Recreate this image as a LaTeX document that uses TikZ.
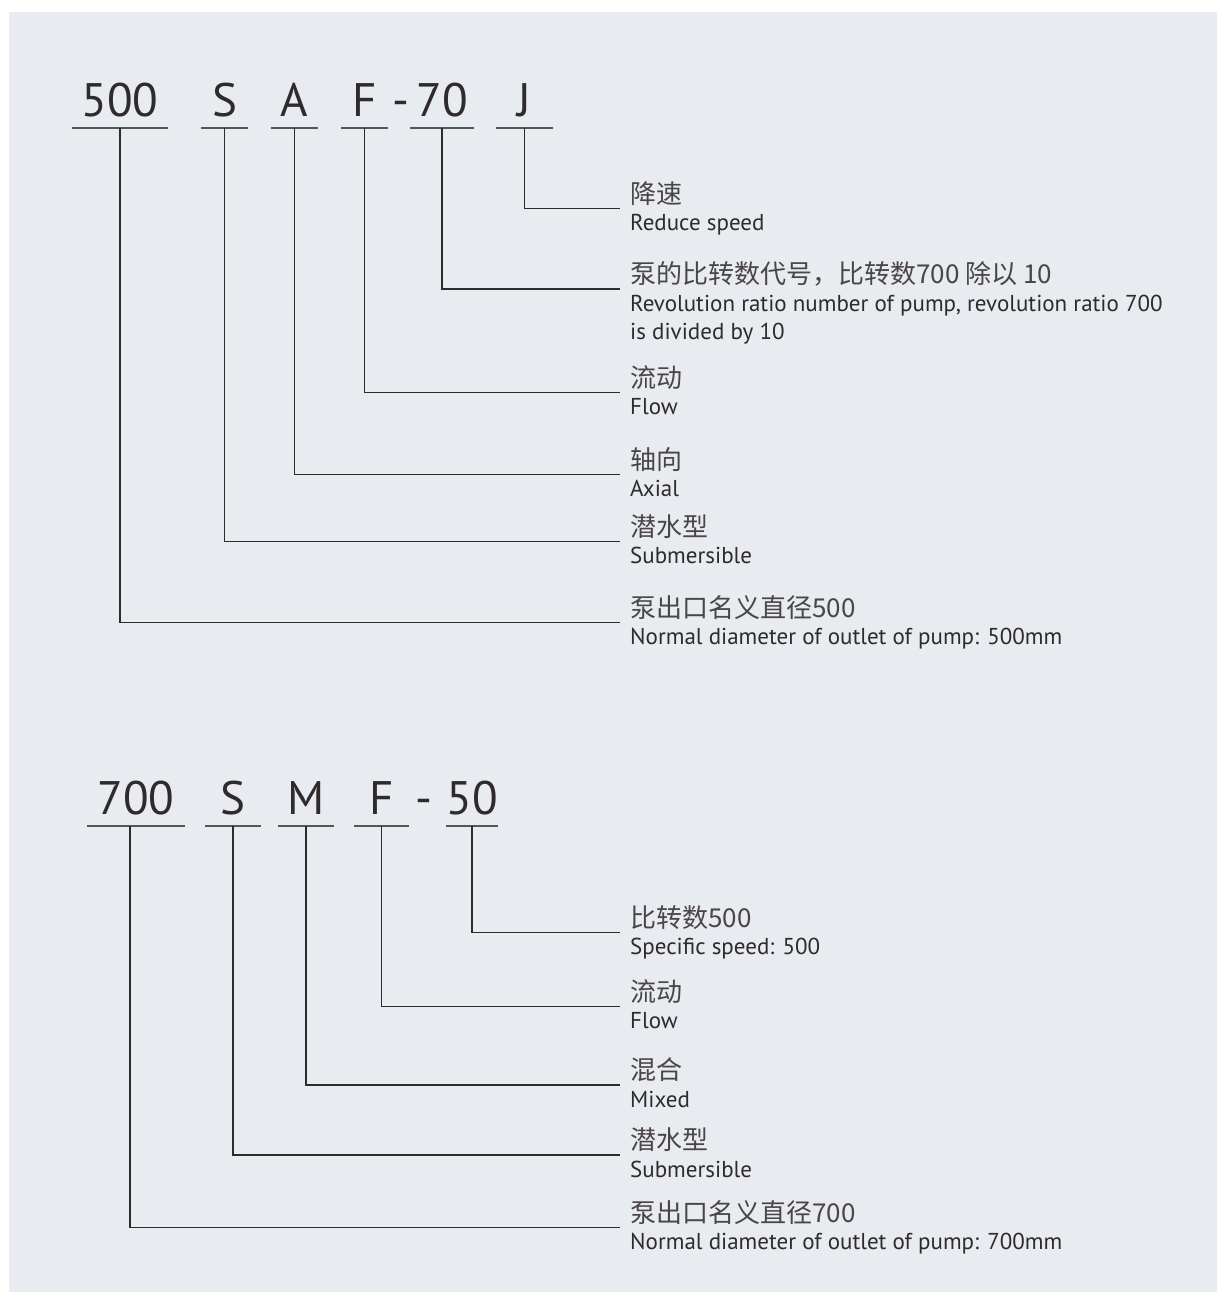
\documentclass[tikz,border=0pt]{standalone}
\usepackage{fontspec}
\setmainfont{PT Sans}
\newfontfamily\cjk{Noto Sans CJK SC}
\usetikzlibrary{positioning}
\definecolor{bg}{HTML}{E8EBF0}
\definecolor{ink}{HTML}{2F2A2B}
\definecolor{cnink}{HTML}{4A4546}
\definecolor{rule}{HTML}{5A5553}
\tikzstyle{code} = [font=\fontsize{47}{52}\selectfont, text=ink, anchor=south, inner xsep=0pt, inner ysep=11pt, text depth=0pt]
\tikzstyle{uline} = [draw=rule, line width=1.6pt]
\tikzstyle{cn} = [font=\cjk\fontsize{26}{30}\selectfont, text=cnink, anchor=south west, inner xsep=10pt, inner ysep=5pt, text depth=0pt]
\tikzstyle{en} = [font=\fontsize{23}{28}\selectfont, text=ink, anchor=base west, inner sep=0pt]
\tikzstyle{link} = [draw=ink, line width=1.2pt]
\tikzset{under/.style={code, minimum width=#1,
  append after command={(\tikzlastnode.south west) edge[uline] (\tikzlastnode.south east)}}}
\newcommand{\gap}{22pt}
\newcommand{\labelshift}{10pt}
\newcommand{\linestep}{28.4pt}

\begin{document}
\begin{tikzpicture}[x=1pt, y=-1pt]

  \useasboundingbox (0,0) rectangle (1217,1292);
  \fill [white] (0,0) rectangle (1217,1292);
  \fill [bg] (9,12) rectangle (1217,1292);

  % first code: 500 S A F-70 J
  \node (c500) [under=96pt] at (120,128)   {500};
  \node (cS)   [under=46pt] at (224.5,128) {S};
  \node (cA)   [under=46pt] at (294.5,128) {A};
  \node (cF)   [under=46pt] at (364.5,128) {F};
  \node (dash) [code]       at (400.5,128) {-};
  \node (c70)  [under=64pt] at (442,128)   {70};
  \node (cJ)   [under=56pt] at (524.5,128) {J};

  \node (lbJ)   [cn] at (620,208.3) {降速};
  \node (enJ)   [below right=\gap and \labelshift of lbJ.south west, en] {Reduce speed};
  \node (lb70)  [cn] at (620,289) {泵的比转数代号，比转数700 除以 10};
  \node (en70)  [below right=\gap and \labelshift of lb70.south west, en] {Revolution ratio number of pump, revolution ratio 700};
  \node (en70b) [below=\linestep of en70.base west, en] {is divided by 10};
  \node (lbF)   [cn] at (620,392.3) {流动};
  \node (enF)   [below right=\gap and \labelshift of lbF.south west, en] {Flow};
  \node (lbA)   [cn] at (620,474.3) {轴向};
  \node (enA)   [below right=\gap and \labelshift of lbA.south west, en] {Axial};
  \node (lbS)   [cn] at (620,541.7) {潜水型};
  \node (enS)   [below right=\gap and \labelshift of lbS.south west, en] {Submersible};
  \node (lb500) [cn] at (620,622.3) {泵出口名义直径500};
  \node (en500) [below right=\gap and \labelshift of lb500.south west, en] {Normal diameter of outlet of pump: 500mm};

  % code - label
  \draw [link] (cJ.south) |- (lbJ.south west);
  \draw [link] (c70.south) |- (lb70.south west);
  \draw [link] (cF.south) |- (lbF.south west);
  \draw [link] (cA.south) |- (lbA.south west);
  \draw [link] (cS.south) |- (lbS.south west);
  \draw [link] (c500.south) |- (lb500.south west);

  % second code: 700 S M F-50
  \node (c700) [under=97.5pt] at (136,825.7)   {700};
  \node (cS2)  [under=56pt]   at (233,825.7)   {S};
  \node (cM)   [under=56pt]   at (306,825.7)   {M};
  \node (cF2)  [under=55.5pt] at (381.5,825.7) {F};
  \node (dash2)[code]         at (424,825.7)   {-};
  \node (c50)  [under=46pt]   at (472,825.7)   {50};

  \node (lb50)  [cn] at (620,932.3) {比转数500};
  \node (en50)  [below right=\gap and \labelshift of lb50.south west, en] {Specific speed: 500};
  \node (lbF2)  [cn] at (620,1006.7) {流动};
  \node (enF2)  [below right=\gap and \labelshift of lbF2.south west, en] {Flow};
  \node (lbM)   [cn] at (620,1085) {混合};
  \node (enM)   [below right=\gap and \labelshift of lbM.south west, en] {Mixed};
  \node (lbS2)  [cn] at (620,1155) {潜水型};
  \node (enS2)  [below right=\gap and \labelshift of lbS2.south west, en] {Submersible};
  \node (lb700) [cn] at (620,1227.7) {泵出口名义直径700};
  \node (en700) [below right=\gap and \labelshift of lb700.south west, en] {Normal diameter of outlet of pump: 700mm};

  % code - label
  \draw [link] (c50.south) |- (lb50.south west);
  \draw [link] (cF2.south) |- (lbF2.south west);
  \draw [link] (cM.south) |- (lbM.south west);
  \draw [link] (cS2.south) |- (lbS2.south west);
  \draw [link] ([xshift=-6pt]c700.south) |- (lb700.south west);

\end{tikzpicture}
\end{document}
